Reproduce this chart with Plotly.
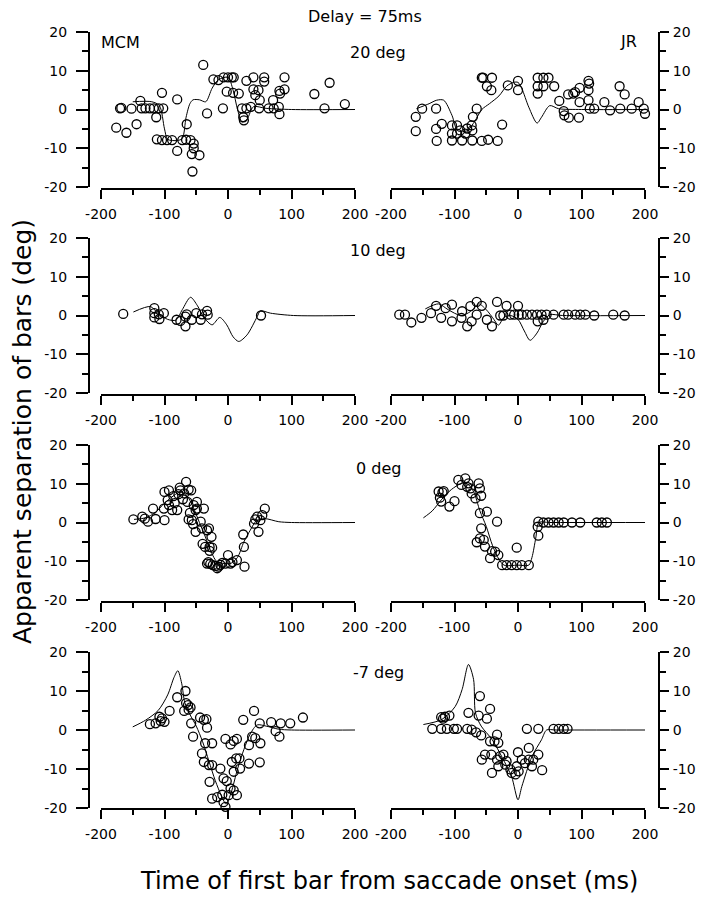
import plotly.graph_objects as go

# ---------------- data ----------------
# MCM, 20 deg
mcm20_t = [-176,-160,-170,-168,-152,-144,-138,-136,-130,-123,-117,-109,-102,-113,-104,-80,-112,-104,-96,-88,-80,-72,-66,-59,-54,-65,-54,-57,-45,-56,-39,-33,-23,-15,-8,-7,0,6,9,-2,8,17,29,22,29,24,25,36,40,40,43,48,50,49,57,57,64,71,72,80,81,81,82,89,89,136,152,160,184]
mcm20_sep = [-4.7,-6,0.3,0.4,0.2,-3.8,2.2,0.3,0.3,0.3,0.3,0.3,0.3,-2,4.3,2.6,-7.7,-7.9,-7.9,-7.9,-10.7,-7.9,-7.8,-7.9,-8.8,-3.8,-10,-11.5,-11.8,-16,11.5,-1,7.8,7.6,0.3,8.3,8.3,8.3,8.3,4.6,4.3,4.1,7.4,0.3,0.3,-2,-2.8,0.7,8.3,5.2,3.7,5,2.4,0.3,8.3,7.2,0.3,2.4,0.3,0.7,-1.2,4.8,4.1,8.3,5.2,4,0.3,6.9,1.4]
mcm20_fit_t = [-150,-120,-108,-100,-95,-80,-72,-66,-60,-55,-45,-35,-25,-15,0,8,15,22,30,40,60,100,200]
mcm20_fit_sep = [2,2,1,-5,-7.7,-8,-7.5,-2,1.5,2.5,2.5,2,5.5,7.7,8.3,5,0,-3.2,-2.5,0.7,0.3,0,0]

# JR, 20 deg
jr20_t = [-161,-161,-151,-129,-129,-128,-120,-104,-104,-104,-96,-96,-91,-88,-83,-80,-73,-72,-72,-71,-65,-57,-55,-41,-49,-42,-57,-47,-32,-25,-16,0,0,31,40,48,31,40,31,57,65,72,73,79,80,87,90,96,97,97,111,112,111,111,113,120,136,145,160,161,168,179,190,198,200]
jr20_sep = [-1.9,-5.6,0.2,0.2,-5,-8.1,-3.7,-4.1,-6.2,-8,-4.1,-6.2,-5.4,-8,-6.2,-4.9,-4.1,-5.4,-8,-1.9,0.2,8.2,8.2,8.2,6,5,-8.1,-7.8,-8.1,-3.9,6.2,7.4,5,8.2,8.2,8.2,6,6,4.1,6,2.2,-0.4,-1.5,3.9,-2.1,4.1,4.5,-2.1,1.9,5.6,7.4,6.7,5,2.4,0.2,0.2,1.9,-0.2,6,0.2,3.9,0.2,1.9,0.2,-1.1]
jr20_fit_t = [-160,-140,-128,-117,-104,-95,-80,-68,-57,-45,-30,-18,-7,0,6,17,30,37,50,64,100,200]
jr20_fit_sep = [0.2,1.5,2.4,2.4,-1.5,-5.5,-5.5,-3,0,1.5,3.5,6,7,7,5.4,0.6,-3.5,-2,1,0.2,0,0]

# MCM, 10 deg
mcm10_t = [-165,-116,-116,-116,-109,-108,-101,-81,-75,-67,-65,-67,-57,-50,-43,-41,-33,-32,52]
mcm10_sep = [0.4,1.9,0.6,-0.5,0.3,-0.9,0.6,-1.1,-1.4,-0.3,0.3,-2.8,-1.1,0.6,-1.1,0.3,1.2,0.2,0]
mcm10_fit_t = [-149,-122,-110,-95,-82,-72,-59,-48,-38,-25,-13,-2,8,17,30,46,51,67,103,200]
mcm10_fit_sep = [0.9,2.3,0.5,-1,-1.2,1.5,4.7,2.5,-0.5,-2.4,-0.5,-2.4,-5.5,-6.7,-5,-0.3,1.2,0.6,0,0]

# JR, 10 deg
jr10_t = [-205,-187,-178,-168,-152,-137,-129,-121,-114,-104,-104,-88,-89,-80,-73,-75,-65,-57,-65,-49,-41,-33,-28,-23,-18,0,-12,-6,1,6,14,22,30,37,45,56,31,40,72,79,90,98,106,120,150,168]
jr10_sep = [0.6,0.2,0.2,-1.8,-0.6,0.6,2.5,-0.6,1.9,2.8,-1.5,1.1,-0.6,-2.8,-1.5,2.4,3.5,2.5,0.2,-1.1,-2.8,3.5,0,0,2.5,2.5,0.2,0.2,0.2,0.2,0.2,0.2,0.2,0.2,0.2,0.2,-1.5,-1.1,0.2,0.2,0.2,0.2,0.2,0,0.2,0]
jr10_fit_t = [-146,-125,-110,-90,-75,-62,-50,-38,-31,-22,-12,0,10,19,30,40,50,70,200]
jr10_fit_sep = [1.7,3,1.5,0,1,3,1.5,-1,-2.5,-0.5,0,-1,-4,-6.4,-4.5,-1.5,0.2,0,0]

# MCM, 0 deg
mcm0_t = [-149,-135,-131,-126,-118,-114,-101,-100,-100,-93,-95,-93,-88,-80,-86,-78,-75,-71,-69,-66,-62,-58,-64,-62,-57,-55,-54,-51,-49,-49,-51,-43,-38,-41,-33,-30,-26,-36,-29,-25,-29,-33,-28,-24,-17,-15,-9,-4,0,4,14,24,25,26,41,43,46,48,51,54,58,-31,-20,-12,7,-40,-60,-76,-84]
mcm0_sep = [0.8,1.5,1,0.2,3.6,0.9,3.6,0.6,7.9,8.3,5.8,4.5,3.2,3.2,6.8,7.3,8.3,6,7.5,10.5,8.5,8.3,5.3,0.8,0.6,-0.4,4.5,3.2,5.3,3.6,-2.4,0.2,3.6,-1.5,-2,-1.5,-3.7,-6.3,-6.3,-6.5,-7.3,-10.6,-10.7,-11,-11.8,-11.4,-10.4,-10.6,-8.4,-10.6,-9.7,-3.1,-6.3,-11.4,-0.3,0.8,1.5,-2.4,0.6,1.9,3.6,-10.2,-11.2,-10.9,-10.2,-5.5,2.5,9,5]
mcm0_fit_t = [-148,-130,-115,-100,-85,-75,-65,-55,-45,-35,-28,-18,-5,5,15,25,35,45,58,80,100,200]
mcm0_fit_sep = [0.8,1.2,2.5,5,7,7.9,7,4,0,-4,-7,-10,-10.6,-10.5,-9,-5,-2,0.5,1,0.2,0,0]

# JR, 0 deg
jr0_t = [-125,-119,-123,-121,-117,-108,-100,-94,-83,-89,-78,-75,-80,-73,-67,-62,-60,-58,-60,-49,-33,-58,-65,-60,-54,-52,-44,-41,-36,-31,-25,-18,-10,-2,6,17,-2,32,31,32,40,48,56,64,72,85,98,124,132,140]
jr0_sep = [8,7.8,6.4,5.4,8.1,4.1,5.5,11,11.4,9.7,10.1,8.8,9.2,7.5,6.2,10.1,8.8,6.9,2.4,2.8,0.2,-1.5,-5.1,-4.1,-4.5,-6.2,-9.2,-7.4,-7.5,-8.4,-11,-11,-11,-11,-11,-11,-6.5,-3.4,-1.1,0.2,0,0,0,0,0,0,0,0,0,0]
jr0_fit_t = [-149,-135,-120,-105,-90,-80,-70,-60,-50,-40,-30,-22,0,17,22,28,33,50,200]
jr0_fit_sep = [1.2,3,6,8.5,10,10,8,3,-1,-6,-9.5,-11,-11,-11,-9,-4,0,0,0]

# MCM, -7 deg
mcm7_t = [-123,-114,-106,-108,-104,-100,-92,-80,-67,-66,-63,-59,-62,-69,-58,-55,-44,-38,-34,-33,-36,-25,-41,-38,-30,-25,-29,-25,-17,-12,-7,-2,-9,-7,-4,1,4,9,14,-4,4,9,14,6,13,18,9,19,24,33,38,43,41,50,51,50,33,68,75,81,83,98,118]
mcm7_sep = [1.5,1.7,2.3,3.4,3,2.1,4.9,8.4,10,6.9,6.4,5.8,5.2,4.9,1.7,-1.7,3.2,2.6,2.8,0.6,-3.4,-3.4,-6,-8.2,-9,-9,-13.3,-17.6,-17.2,-9.9,-12.4,-13.1,-16.6,-18.5,-19.7,-16.7,-15,-15.5,-16.7,-2.3,-3.7,-2.8,-2.3,-8.2,-7.3,-7.3,-10.7,-9.9,2.6,-3.9,-1.7,-2.1,4.9,1.7,-3.4,-8.3,-8.6,2,-0.3,-1.7,1.7,1.7,3.2]
mcm7_fit_t = [-150,-130,-110,-95,-85,-79,-73,-68,-60,-50,-40,-30,-20,-10,-3,5,15,25,35,46,60,80,100,200]
mcm7_fit_sep = [0.8,2.5,5,9,13.5,15.2,12,7,4,1,-3,-8,-13,-17,-19,-16,-10,-5,-1,1.3,1,0.2,0,0]

# JR, -7 deg
jr7_t = [-135,-121,-112,-101,-96,-80,-73,-66,-58,-121,-115,-108,-118,-78,-60,-62,-49,-44,-33,-44,-37,-31,-41,-57,-52,-42,-33,-28,-23,-18,-31,-20,-12,-10,-4,1,-2,6,11,17,0,22,24,32,38,17,14,32,56,64,72,78]
jr7_sep = [0.3,0.3,0.3,0.3,0.3,0.3,0.1,-0.6,-1.4,3.3,3.4,3.7,2.9,4.4,8.7,3.7,2.9,5.4,-1.2,-2.9,-2.9,-3.3,-11,-7.6,-6.3,-6.3,-7.6,-6.7,-6.3,-8,-9.3,-8.9,-10.1,-11,-11.4,-10.6,-9.3,-7.6,-8.5,-7.6,-5.7,-9.3,-7.6,-6.3,-10.3,-4.6,0.3,0.3,0.3,0.3,0.3,0.3]
jr7_fit_t = [-149,-120,-99,-88,-78,-70,-67,-58,-41,-25,-10,0,6,22,37,45,60,200]
jr7_fit_sep = [1.4,2.7,6,10.4,16.8,13,4.4,1,-2.4,-7,-12,-17.9,-14.5,-6.8,-2.5,0,0,0]

row_labels = ["20 deg", "10 deg", "0 deg", "-7 deg"]
x_ticks = [-200, -100, 0, 100, 200]
x_minor = [-150, -50, 50, 150]
y_ticks = [-20, -10, 0, 10, 20]
y_minor = [-15, -5, 5, 15]

panels = [
    (mcm20_t, mcm20_sep, mcm20_fit_t, mcm20_fit_sep),
    (jr20_t, jr20_sep, jr20_fit_t, jr20_fit_sep),
    (mcm10_t, mcm10_sep, mcm10_fit_t, mcm10_fit_sep),
    (jr10_t, jr10_sep, jr10_fit_t, jr10_fit_sep),
    (mcm0_t, mcm0_sep, mcm0_fit_t, mcm0_fit_sep),
    (jr0_t, jr0_sep, jr0_fit_t, jr0_fit_sep),
    (mcm7_t, mcm7_sep, mcm7_fit_t, mcm7_fit_sep),
    (jr7_t, jr7_sep, jr7_fit_t, jr7_fit_sep),
]

# ---------------- layout geometry (pixels in the 705x900 window) ----------------
OFF = 8                      # page body margin of the browser
W, H = 705 - OFF, 900 - OFF  # figure size so it fits the window
FONT = "DejaVu Sans"
rows_px = [(32, 187, 189), (238, 393, 395), (445, 600, 602), (652, 808, 809)]
cols_px = [((101, 355), 89, "left"), ((391, 645), 659, "right")]
label_y = [53, 250, 468, 672]

def fx(p):
    return (p - OFF) / W

def fy(p):
    return 1 - (p - OFF) / H

fig = go.Figure()
layout = dict(
    width=W, height=H, margin=dict(l=0, r=0, t=0, b=0),
    paper_bgcolor="white", plot_bgcolor="white", showlegend=False,
    template="none", font=dict(family=FONT, color="black"),
)

axis_common = dict(
    showline=True, linewidth=2, linecolor="black", mirror=False,
    ticks="outside", tickwidth=2, tickcolor="black",
    showgrid=False, zeroline=False, automargin=False,
    tickfont=dict(family=FONT, size=14, color="black"),
)

for i, (t, s, ft, fs) in enumerate(panels):
    r, c = divmod(i, 2)
    n = i + 1
    ytop, ybot, xline = rows_px[r]
    (x0, x1), yline, side = cols_px[c]
    xa = "xaxis" if n == 1 else f"xaxis{n}"
    ya = "yaxis" if n == 1 else f"yaxis{n}"
    layout[xa] = dict(
        axis_common, domain=[fx(x0), fx(x1)], range=[-200, 200],
        anchor="free", position=fy(xline), ticklen=9, ticklabelstandoff=3,
        tickmode="array", tickvals=x_ticks, ticktext=[str(v) for v in x_ticks],
        minor=dict(tickmode="array", tickvals=x_minor, ticklen=5, tickwidth=2,
                   tickcolor="black", ticks="outside", showgrid=False),
    )
    layout[ya] = dict(
        axis_common, domain=[fy(ybot), fy(ytop)], range=[-20, 20],
        anchor="free", position=fx(yline), side=side,
        ticklen=12 if side == "left" else 9,
        ticklabelstandoff=6 if side == "left" else 1,
        tickmode="array", tickvals=y_ticks, ticktext=[str(v) for v in y_ticks],
        minor=dict(tickmode="array", tickvals=y_minor, ticklen=6, tickwidth=2,
                   tickcolor="black", ticks="outside", showgrid=False),
    )
    xr = "x" if n == 1 else f"x{n}"
    yr = "y" if n == 1 else f"y{n}"
    fig.add_trace(go.Scatter(
        x=ft, y=fs, mode="lines", xaxis=xr, yaxis=yr,
        line=dict(color="black", width=1, shape="spline", smoothing=0.8),
        cliponaxis=False, hoverinfo="skip",
    ))
    fig.add_trace(go.Scatter(
        x=t, y=s, mode="markers", xaxis=xr, yaxis=yr,
        marker=dict(symbol="circle-open", size=9, color="black",
                    line=dict(width=1.3, color="black")),
        cliponaxis=False,
    ))

annotations = [
    dict(text="Delay = 75ms", x=fx(365), y=fy(17), font=dict(size=16)),
    dict(text="MCM", x=fx(99), y=fy(42), xanchor="left", font=dict(size=16)),
    dict(text="JR", x=fx(628), y=fy(41), font=dict(size=16)),
    dict(text="Apparent separation of bars (deg)", x=fx(22), y=fy(432),
         textangle=-90, font=dict(size=25)),
    dict(text="Time of first bar from saccade onset (ms)", x=fx(389), y=fy(881),
         font=dict(size=24)),
]
for lbl, yy in zip(row_labels, label_y):
    annotations.append(dict(text=lbl, x=fx(378), y=fy(yy), font=dict(size=16)))

for a in annotations:
    a.update(xref="paper", yref="paper", showarrow=False)
    a.setdefault("xanchor", "center")
    a["yanchor"] = "middle"
    a["font"] = dict(family=FONT, color="black", **a["font"])

layout["annotations"] = annotations
fig.update_layout(**layout)
fig.write_html("out.html")
